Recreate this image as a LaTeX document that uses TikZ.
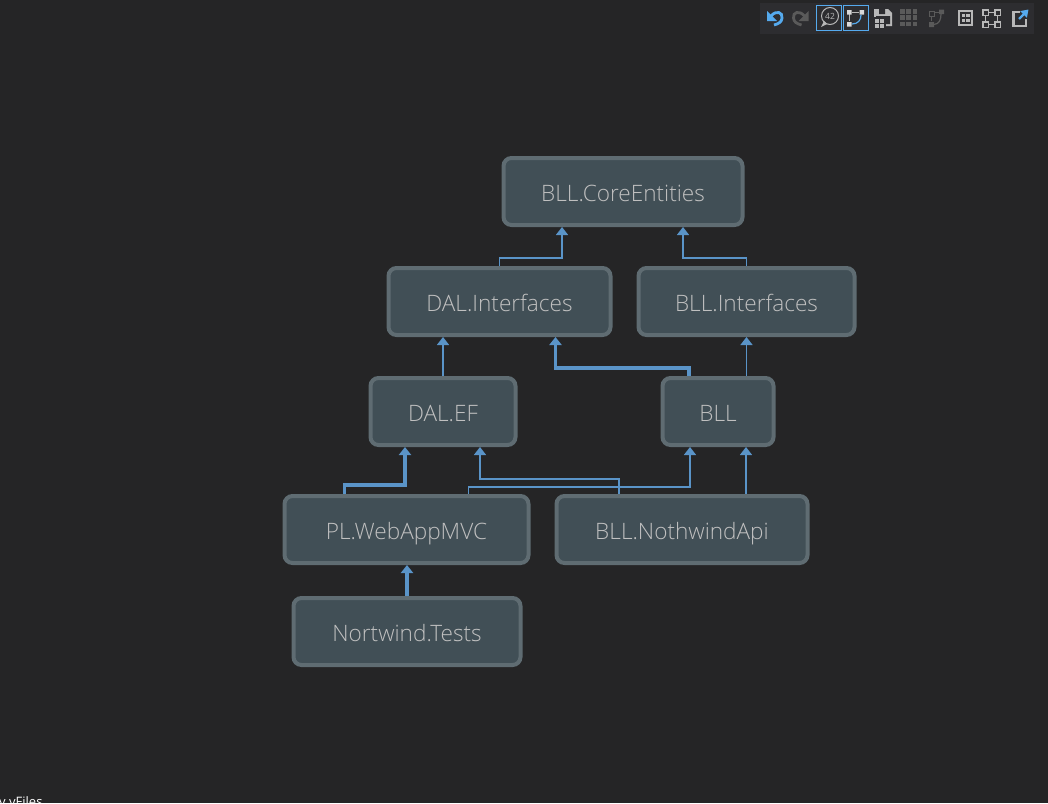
\documentclass[tikz,border=0pt]{standalone}
\usepackage{fontspec}
\setmainfont{Open Sans Light}[BoldFont=Open Sans]
\usetikzlibrary{arrows.meta}
\usetikzlibrary{calc}
\definecolor{canvasbg}{HTML}{252526}
\definecolor{barbg}{HTML}{2D2D30}
\definecolor{boxfill}{HTML}{414F56}
\definecolor{boxline}{HTML}{5F6C72}
\definecolor{boxtext}{HTML}{C0C0C0}
\definecolor{edgeblue}{HTML}{5A94C8}
\definecolor{iconblue}{HTML}{55AAEE}
\definecolor{iconlight}{HTML}{B8B8B8}
\definecolor{icondim}{HTML}{5A5A5A}
\tikzset{
  modbox/.style={draw=boxline,fill=boxfill,line width=4pt,rounded corners=8pt,
    minimum height=67pt,text height=21pt,text depth=2pt,text=boxtext,
    font=\fontsize{22.6}{24}\selectfont},
  dep/.style={draw=edgeblue,line width=1.4pt,-{Triangle[width=12pt,length=8pt]}},
  depheavy/.style={draw=edgeblue,line width=3.4pt,-{Triangle[width=12pt,length=8pt]}},
  togglebox/.style={draw=iconblue,line width=1pt},
}
\begin{document}
\begin{tikzpicture}[x=1pt,y=-1pt]
      \useasboundingbox (0,0) rectangle (1048,803);
      \clip (0,0) rectangle (1048,803);
      \fill[canvasbg] (0,0) rectangle (1048,803);
      % modules
      \node[modbox,minimum width=239pt] (core) at (623,191.5) {BLL.CoreEntities};
      \node[modbox,minimum width=222pt] (dali) at (499.5,301.5) {DAL.Interfaces};
      \node[modbox,minimum width=216pt] (blli) at (746.5,301.5) {BLL.Interfaces};
      \node[modbox,minimum width=145pt] (dalef) at (443,411.5) {DAL.EF};
      \node[modbox,minimum width=111pt] (bll) at (718,411.5) {BLL};
      \node[modbox,minimum width=244pt] (web) at (406.5,529.5) {PL.WebAppMVC};
      \node[modbox,minimum width=251pt] (api) at (682,529.5) {BLL.NothwindApi};
      \node[modbox,minimum width=227pt] (tests) at (407,631.5) {Nortwind.Tests};
      % dependencies
      \draw[dep] (dali.north) |- ++(31,-8) -| ([xshift=-61pt]core.south);
      \draw[dep] (blli.north) |- ++(-32,-8) -| ([xshift=60pt]core.south);
      \draw[dep] (dalef.north) -- (dalef.north |- dali.south);
      \draw[dep] (bll.north -| blli.south) -- (blli.south);
      \draw[depheavy] ([xshift=-29pt]bll.north) -- ++(0,-8) -| ([xshift=56pt]dali.south);
      \draw[depheavy] ([xshift=-62pt]web.north) -- ++(0,-9) -| ([xshift=-38pt]dalef.south);
      \draw[dep] ([xshift=62pt]web.north) -- ++(0,-7) -| ([xshift=-28pt]bll.south);
      \draw[dep] ([xshift=-63pt]api.north) -- ++(0,-15) -| ([xshift=37pt]dalef.south);
      \draw[dep] ([xshift=64pt]api.north) -- ([xshift=28pt]bll.south);
      \draw[depheavy] (tests.north) -- (tests.north |- web.south);
      % toolbar
      \fill[barbg] (760,3) rectangle (1034,34);
      \fill[iconblue] (767,11) -- (767,21) -- (777,21) -- cycle;
      \draw[iconblue,line width=2.8pt] (771,16) .. controls (776,10) and (783,12) .. (782,18) .. controls (782,22) and (778,24) .. (774,25);
      \fill[icondim] (808.5,11) -- (808.5,21) -- (798.5,21) -- cycle;
      \draw[icondim,line width=2.8pt] (804.5,16) .. controls (799.5,10) and (792.5,12) .. (793.5,18) .. controls (793.5,22) and (797.5,24) .. (801.5,25);
      \draw[togglebox] (816.5,5.5) rectangle (841.5,30.5);
      \draw[togglebox] (843.5,5.5) rectangle (868.5,30.5);
      \draw[iconlight,line width=1pt,fill=barbg] (830,16) circle (8.5pt);
      \fill[iconlight] (824,21) -- (821,27) -- (827,24) -- cycle;
      \node[text=iconlight,font=\fontsize{8.5}{8.5}\selectfont\bfseries,inner sep=0pt] (countlabel) at (830,16) {42};
      \draw[iconlight,line width=0.9pt] (852,12) -- (859,12) (849.5,14) -- (849.5,21);
      \fill[white!85!black] (847,10) rectangle (851.5,14.5) (859.5,10) rectangle (864,14.5) (847,22) rectangle (851.5,26.5);
      \draw[iconblue,line width=1.2pt] (852,24) .. controls (858,24) and (861,20) .. (861,15);
      % save
      \fill[iconlight] (874,9) -- (888,9) -- (892,13) -- (892,26) -- (874,26) -- cycle;
      \fill[barbg] (879,9) rectangle (885,14) (876,16) rectangle (890,24);
      \fill[barbg] (873,17) rectangle (886,31);
      \foreach \ix in {0,1} \foreach \iy in {0,1}
        \fill[iconlight] (875+\ix*5,19+\iy*5) rectangle (878.5+\ix*5,22.5+\iy*5);
      % disabled grid
      \foreach \ix in {0,1,2} \foreach \iy in {0,1,2}
        \fill[icondim] (900+\ix*6.3,9+\iy*6.3) rectangle (904.8+\ix*6.3,13.8+\iy*6.3);
      % disabled edge
      \draw[icondim,line width=0.9pt] (929,11) rectangle (934,16);
      \draw[icondim,line width=0.9pt] (931.5,16) -- (931.5,21) (934,12) -- (939,12);
      \fill[icondim] (929,22) rectangle (934,27) (939,9.5) rectangle (944,14);
      \draw[icondim,line width=1.2pt] (934,24.5) .. controls (939,24) and (941,20) .. (941,14);
      % group box
      \draw[iconlight,line width=1.6pt] (959,11) rectangle (972,25);
      \foreach \ix in {0,1} \foreach \iy in {0,1}
        \fill[iconlight] (961.5+\ix*4.8,13.8+\iy*4.8) rectangle (964.8+\ix*4.8,17.1+\iy*4.8);
      % layout
      \foreach \ix in {0,1} \foreach \iy in {0,1}
        \draw[iconlight,line width=1.1pt] (983+\ix*12,10+\iy*12) rectangle (988.5+\ix*12,15.5+\iy*12);
      \draw[iconlight,line width=0.8pt] (988.5,12.7) -- (995,12.7) (988.5,24.7) -- (995,24.7) (985.7,15.5) -- (985.7,22) (997.7,15.5) -- (997.7,22);
      % export
      \draw[iconlight,line width=2.6pt] (1020,12) -- (1013.5,12) -- (1013.5,26) -- (1026,26) -- (1026,19);
      \draw[iconblue,line width=2.4pt,-{Triangle[width=9pt,length=7pt]}] (1019,19) -- (1028.5,9.5);
      % clipped label
      \node[text=white,font=\fontsize{13}{13}\selectfont\bfseries,anchor=base west,inner sep=0pt] (brand) at (-1,806.5) {y yFiles};
    \end{tikzpicture}
\end{document}
